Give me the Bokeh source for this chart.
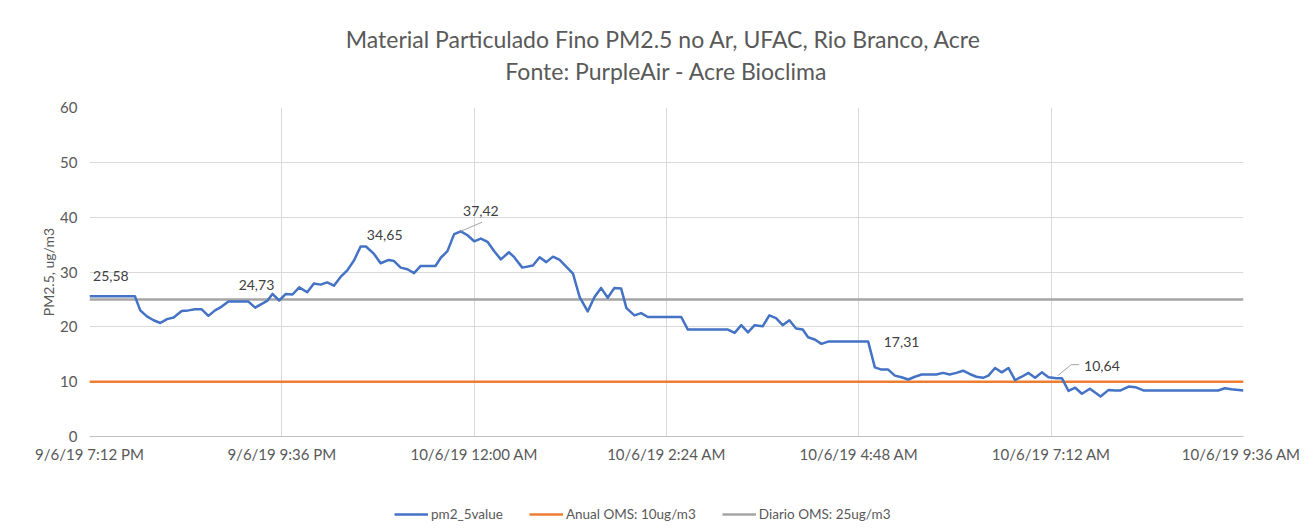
from bokeh.plotting import figure
from bokeh.layouts import column
from bokeh.models import (Range1d, FixedTicker, Legend, LegendItem, Title, ColumnDataSource)
from bokeh.core.properties import value
from bokeh.embed import file_html
from bokeh.resources import INLINE

# minutes after 9/6/19 7:12 PM
minutes = [0, 34, 38, 43, 48, 53, 58, 63, 69, 74, 79, 84, 89, 94, 99, 104, 119, 124, 129, 133,
           137, 142, 147, 152, 157, 163, 168, 173, 178, 183, 188, 193, 198, 203, 207, 213, 218,
           224, 228, 233, 238, 243, 248, 259, 263, 268, 273, 278, 283, 288, 293, 298, 303, 308,
           314, 318, 324, 332, 337, 342, 347, 352, 358, 362, 367, 373, 378, 383, 388, 393, 398,
           402, 408, 413, 418, 443, 448, 478, 483, 488, 493, 498, 504, 509, 514, 519, 524, 529,
           534, 538, 543, 548, 553, 583, 588, 593, 598, 603, 608, 613, 618, 623, 634, 639, 644,
           649, 654, 659, 664, 669, 673, 678, 683, 688, 693, 698, 703, 708, 713, 718, 724, 728,
           733, 738, 743, 749, 757, 763, 768, 772, 778, 783, 789, 845, 850, 855, 864]
pm25 = [25.58, 25.58, 23.0, 21.9, 21.2, 20.7, 21.4, 21.7, 22.9, 23.0, 23.2, 23.2, 22.0, 23.0, 23.7,
        24.6, 24.6, 23.5, 24.2, 24.73, 26.0, 24.8, 26.0, 25.9, 27.2, 26.3, 27.9, 27.7, 28.1, 27.5,
        29.1, 30.3, 32.1, 34.65, 34.65, 33.3, 31.6, 32.2, 32.0, 30.8, 30.5, 29.8, 31.1, 31.1, 32.6,
        33.8, 36.9, 37.42, 36.7, 35.6, 36.1, 35.5, 33.8, 32.3, 33.6, 32.7, 30.8, 31.2, 32.7, 31.8,
        32.8, 32.2, 30.7, 29.7, 25.4, 22.8, 25.4, 27.1, 25.3, 27.1, 27.0, 23.4, 22.1, 22.5, 21.8,
        21.8, 19.5, 19.5, 18.9, 20.3, 19.0, 20.3, 20.1, 22.1, 21.6, 20.3, 21.2, 19.7, 19.5, 18.1,
        17.7, 16.9, 17.31, 17.31, 12.6, 12.2, 12.2, 11.1, 10.8, 10.4, 10.9, 11.3, 11.3, 11.6, 11.3,
        11.6, 12.0, 11.4, 10.9, 10.7, 11.1, 12.5, 11.7, 12.5, 10.3, 10.9, 11.6, 10.7, 11.7, 10.8,
        10.64, 10.64, 8.3, 8.9, 7.8, 8.7, 7.3, 8.5, 8.4, 8.4, 9.1, 9.0, 8.4, 8.4, 8.8, 8.6, 8.4]

annual_oms = 10
daily_oms = 25

x_ticks = [0, 144, 288, 432, 576, 720, 864]
x_tick_labels = ["9/6/19 7:12 PM", "9/6/19 9:36 PM", "10/6/19 12:00 AM", "10/6/19 2:24 AM",
                 "10/6/19 4:48 AM", "10/6/19 7:12 AM", "10/6/19 9:36 AM"]
y_ticks = [0, 10, 20, 30, 40, 50, 60]

label_text = ["25,58", "24,73", "34,65", "37,42", "17,31", "10,64"]
label_x = [16, 125, 221, 293, 608, 758]
label_y = [29.2, 27.7, 36.7, 41.2, 17.15, 12.8]

leader_37_x = [278, 294]
leader_37_y = [37.42, 39.1]
leader_10_x = [725, 735, 741]
leader_10_y = [11.1, 13.1, 13.1]

series_names = ["pm2_5value", "Anual OMS: 10ug/m3", "Diario OMS: 25ug/m3"]
series_colors = ["#4472C4", "#ED7D31", "#A5A5A5"]

FONT = "Lato"
GREY_TXT = "#595959"

xr = Range1d(0, 864)
yr = Range1d(0, 60)

p = figure(width=1300, height=480, output_backend="svg", toolbar_location=None,
           x_range=xr, y_range=yr,
           min_border_left=89, min_border_right=57, min_border_top=107, min_border_bottom=44)
p.background_fill_color = "white"
p.border_fill_color = "white"
p.outline_line_color = None

# titles (added nearest-first)
p.add_layout(Title(text="Fonte: PurpleAir - Acre Bioclima", align="center",
                   text_font=FONT, text_font_size="23px", text_font_style="normal",
                   text_color=GREY_TXT, standoff=46), "above")
p.add_layout(Title(text="Material Particulado Fino PM2.5 no Ar,  UFAC, Rio Branco, Acre", align="center",
                   text_font=FONT, text_font_size="23px", text_font_style="normal",
                   text_color=GREY_TXT, standoff=-43), "above")

# axes
p.xaxis.ticker = FixedTicker(ticks=x_ticks)
p.xaxis.major_label_overrides = {t: l for t, l in zip(x_ticks, x_tick_labels)}
p.yaxis.ticker = FixedTicker(ticks=y_ticks)
for ax in (p.xaxis, p.yaxis):
    ax.major_tick_line_color = None
    ax.minor_tick_line_color = None
    ax.major_tick_out = 0
    ax.minor_tick_out = 0
    ax.major_label_text_font = FONT
    ax.major_label_text_font_size = "15px"
    ax.major_label_text_color = GREY_TXT
p.xaxis.axis_line_color = "#bfbfbf"
p.yaxis.axis_line_color = None
p.xaxis.major_label_standoff = 8
p.yaxis.major_label_standoff = 12
p.yaxis.axis_label = "PM2.5, ug/m3"
p.yaxis.axis_label_text_font = FONT
p.yaxis.axis_label_text_font_size = "14px"
p.yaxis.axis_label_text_font_style = "normal"
p.yaxis.axis_label_text_color = GREY_TXT
p.yaxis.axis_label_standoff = 0

p.xgrid.ticker = FixedTicker(ticks=x_ticks)
p.xgrid.grid_line_color = "#d9d9d9"
p.ygrid.grid_line_color = "#d9d9d9"

src = ColumnDataSource(dict(t=minutes, v=pm25))
p.line([0, 864], [annual_oms, annual_oms], line_color=series_colors[1], line_width=2.5)
p.line([0, 864], [daily_oms, daily_oms], line_color=series_colors[2], line_width=2.5)
p.line("t", "v", source=src, line_color=series_colors[0], line_width=2.5, line_join="round")

p.line(leader_37_x, leader_37_y, line_color="#A5A5A5", line_width=1)
p.line(leader_10_x, leader_10_y, line_color="#A5A5A5", line_width=1)
p.text(x=label_x, y=label_y, text=label_text, text_align="center", text_baseline="middle",
       text_font=value(FONT), text_font_size="14px", text_color="#404040")

# legend strip underneath the chart
lg = figure(width=1300, height=51, output_backend="svg", toolbar_location=None,
            x_range=xr, y_range=yr, x_axis_type=None, y_axis_type=None,
            min_border_left=0, min_border_right=0, min_border_top=0, min_border_bottom=0)
lg.outline_line_color = None
lg.background_fill_color = "white"
lg.border_fill_color = "white"
key_pm = lg.line("t", "v", source=src, line_color=series_colors[0], line_width=2.5, visible=False)
key_an = lg.line([0, 864], [annual_oms, annual_oms], line_color=series_colors[1], line_width=2.5, visible=False)
key_di = lg.line([0, 864], [daily_oms, daily_oms], line_color=series_colors[2], line_width=2.5, visible=False)
legend = Legend(items=[LegendItem(label=series_names[0], renderers=[key_pm]),
                       LegendItem(label=series_names[1], renderers=[key_an]),
                       LegendItem(label=series_names[2], renderers=[key_di])],
                orientation="horizontal", location=(305, 9), border_line_color=None,
                background_fill_alpha=0, label_text_font=FONT, label_text_font_size="13.5px",
                label_text_color=GREY_TXT, glyph_width=34, glyph_height=14, label_height=14,
                label_standoff=3, spacing=26, padding=2, margin=0,
                inactive_fill_alpha=0)
lg.add_layout(legend, "center")

layout = column(p, lg, spacing=0)
open("out.html", "w").write(file_html(layout, INLINE))
